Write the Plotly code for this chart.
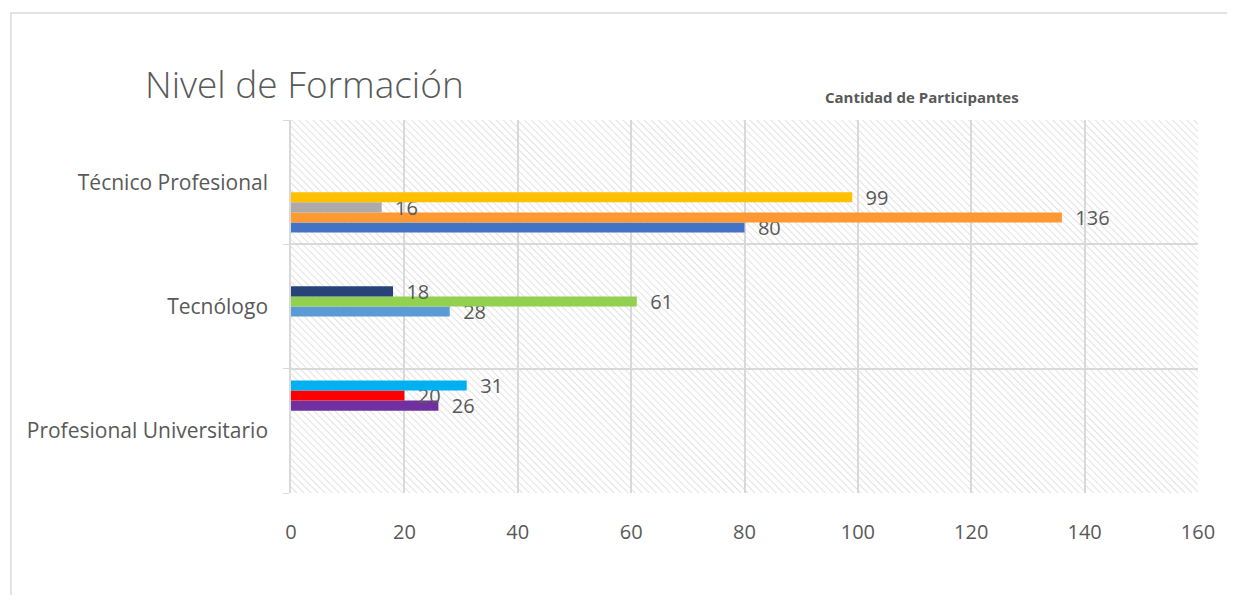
import base64
import plotly.graph_objects as go

categories = ["Profesional Universitario", "Tecnólogo", "Técnico Profesional"]
series_category = ["Técnico Profesional", "Técnico Profesional", "Técnico Profesional", "Técnico Profesional",
                   "Tecnólogo", "Tecnólogo", "Tecnólogo",
                   "Profesional Universitario", "Profesional Universitario", "Profesional Universitario"]
series_values = [80, 136, 16, 99, 28, 61, 18, 26, 20, 31]
series_names = ["Serie 1", "Serie 2", "Serie 3", "Serie 4", "Serie 5",
                "Serie 6", "Serie 7", "Serie 8", "Serie 9", "Serie 10"]
series_colors = ["#4472C4", "#FF9A33", "#AEAAAA", "#FFC000", "#5B9BD5",
                 "#92D050", "#264478", "#7030A0", "#FF0000", "#00B0F0"]
x_ticks = [0, 20, 40, 60, 80, 100, 120, 140, 160]

FONT = "Open Sans"
TXT = "#595959"
OFF = 8  # default page body margin
W, H = 1235 - 2 * OFF, 603 - 2 * OFF
L, R, T, B = 291, 1201, 120, 493  # plot area in window pixels
PW, PH = R - L, B - T

fig = go.Figure()
for name, cat, val, col in zip(series_names, series_category, series_values, series_colors):
    fig.add_trace(go.Bar(
        name=name, y=[cat], x=[val], orientation="h",
        marker=dict(color=col, line=dict(width=0)),
        text=[val], texttemplate="\u00a0\u00a0%{x}",
        textposition="outside", constraintext="none", cliponaxis=False,
        textfont=dict(family=FONT, size=20, color=TXT),
        showlegend=False,
    ))

# hatched plot background
svg = (f'<svg xmlns="http://www.w3.org/2000/svg" width="{PW}" height="{PH}">'
       '<defs><pattern id="h" width="5" height="5" patternUnits="userSpaceOnUse" '
       'patternTransform="rotate(-45)"><line x1="0" y1="0" x2="0" y2="5" '
       'stroke="#d6d6d6" stroke-width="1.4"/></pattern></defs>'
       f'<rect width="{PW}" height="{PH}" fill="#ffffff"/>'
       f'<rect width="{PW}" height="{PH}" fill="url(#h)"/></svg>')
uri = "data:image/svg+xml;base64," + base64.b64encode(svg.encode()).decode()

fig.update_layout(
    width=W, height=H,
    margin=dict(l=L - OFF, r=W + OFF - R, t=T - OFF, b=H + OFF - B),
    paper_bgcolor="white", plot_bgcolor="rgba(0,0,0,0)",
    barmode="group", bargap=0.19, bargroupgap=0,
    font=dict(family=FONT, color=TXT),
    title=dict(text="Nivel de Formación", xref="container", yref="container",
               x=(145 - OFF) / W, xanchor="left", y=1 - (85 - OFF) / H, yanchor="middle",
               font=dict(family=FONT, size=37, color=TXT, weight=300)),
    images=[dict(source=uri, xref="paper", yref="paper", x=0, y=1,
                 sizex=1, sizey=1, xanchor="left", yanchor="top",
                 sizing="stretch", layer="below")],
    annotations=[dict(text="<b>Cantidad de Participantes</b>", xref="paper", yref="paper",
                      x=(924 - L) / PW, y=1 + (T - 97) / PH,
                      xanchor="center", yanchor="middle", showarrow=False,
                      font=dict(family=FONT, size=15, color=TXT))],
    shapes=[dict(type="rect", xref="paper", yref="paper",
                 x0=(10 - L) / PW, x1=(1250 - L) / PW,
                 y0=(B - 620) / PH, y1=1 + (T - 13) / PH,
                 line=dict(color="#d9d9d9", width=1.5), fillcolor="rgba(0,0,0,0)",
                 layer="below")],
)
fig.update_xaxes(range=[0, 160], tickvals=x_ticks, showgrid=True, gridcolor="#d9d9d9",
                 gridwidth=1.5, zeroline=False, showline=False,
                 tickfont=dict(family=FONT, size=20, color=TXT),
                 ticks="outside", ticklen=21, tickcolor="rgba(0,0,0,0)")
fig.update_yaxes(type="category", categoryorder="array", categoryarray=categories,
                 range=[-0.5, 2.5], tickson="boundaries", showgrid=True,
                 gridcolor="#d9d9d9", gridwidth=1.5, showline=True, linecolor="#d9d9d9",
                 linewidth=1.5, ticks="outside", ticklen=6, tickcolor="#d9d9d9",
                 ticklabelstandoff=17,
                 tickfont=dict(family=FONT, size=21, color=TXT))

fig.write_html("out.html")
